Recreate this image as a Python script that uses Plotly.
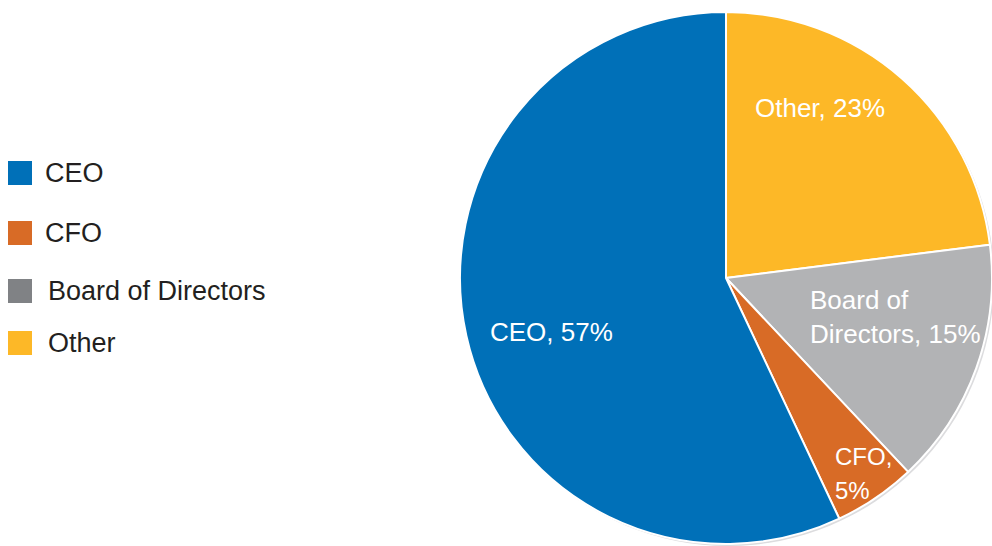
import plotly.graph_objects as go

# Who owns the function
categories = ["CEO", "CFO", "Board of Directors", "Other"]
shares = [57, 5, 15, 23]
# in-slice wording, "\n" marks a line break
slice_templates = ["CEO, {v}%", "CFO,\n{v}%", "Board of\nDirectors, {v}%", "Other, {v}%"]
slice_colors = ["#0070B8", "#D86B26", "#B2B3B5", "#FDB827"]
legend_colors = ["#0070B8", "#D86B26", "#808285", "#FDB827"]

W, H = 992, 546
FONT = "Liberation Sans, Arial, sans-serif"


def px(x):
    return x / W


def py(y):
    return 1 - y / H


fig = go.Figure()

# faint drop shadow behind the pie
fig.add_shape(
    type="circle", xref="paper", yref="paper", layer="below",
    x0=px(726 - 266 + 2), x1=px(726 + 266 + 2), y0=py(278 + 266 + 2), y1=py(278 - 266 + 2),
    fillcolor="#DCDCDE", line=dict(width=0),
)

# slices run clockwise from 12 o'clock: Other, Board, CFO, then CEO
fig.add_trace(
    go.Pie(
        labels=categories[::-1],
        values=shares[::-1],
        sort=False,
        direction="clockwise",
        rotation=0,
        marker=dict(colors=slice_colors[::-1], line=dict(color="white", width=2)),
        textinfo="none",
        hoverinfo="label+percent",
        showlegend=False,
        domain=dict(x=[px(460), 1], y=[0, py(10)]),
    )
)

# in-slice labels: (anchor x, first-line centre y, horizontal anchor, size)
label_spots = [(551, 332, "center", 26), (833, 456, "left", 24), (808, 300, "left", 26), (820, 108, "center", 26)]
LINE_STEP = 34
for tpl, val, (lx, ly, anc, fs) in zip(slice_templates, shares, label_spots):
    for i, line in enumerate(tpl.format(v=val).split("\n")):
        fig.add_annotation(
            x=px(lx), y=py(ly + i * LINE_STEP), xref="paper", yref="paper",
            text=line, showarrow=False, xanchor=anc, yanchor="middle", align="left",
            font=dict(family=FONT, size=fs, color="white"),
        )

# legend: swatch squares with labels
legend_rows = [173, 233, 291, 343]
legend_text_x = [43, 43, 46, 46]
for cat, col, ry, tx in zip(categories, legend_colors, legend_rows, legend_text_x):
    fig.add_shape(
        type="rect", xref="paper", yref="paper",
        x0=px(8), x1=px(32), y0=py(ry - 12), y1=py(ry + 12),
        fillcolor=col, line=dict(width=0),
    )
    fig.add_annotation(
        x=px(tx), y=py(ry), xref="paper", yref="paper",
        text=cat, showarrow=False, xanchor="left", yanchor="middle",
        font=dict(family=FONT, size=27, color="#231F20"),
    )

fig.update_layout(
    width=W, height=H,
    margin=dict(l=0, r=0, t=0, b=0),
    paper_bgcolor="white", plot_bgcolor="white",
)

fig.write_html("out.html")
